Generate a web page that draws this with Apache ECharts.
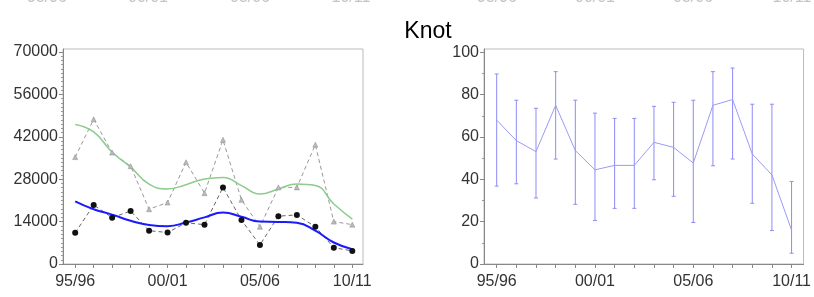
<!DOCTYPE html>
<html>
<head>
<meta charset="utf-8">
<script src="https://cdn.jsdelivr.net/npm/echarts@6/dist/echarts.min.js"></script>
<style>
html, body { margin: 0; padding: 0; background: #fff; }
#chart { width: 814px; height: 297px; }
</style>
</head>
<body>
<div id="chart"></div>
<script>
// seasons 95/96 .. 10/11
const categories = ['95/96', '96/97', '97/98', '98/99', '99/00', '00/01', '01/02', '02/03',
  '03/04', '04/05', '05/06', '06/07', '07/08', '08/09', '09/10', '10/11'];
const labelIdx = [0, 5, 10, 15];

// left panel
const circles = [10300, 19500, 15300, 17500, 11000, 10400, 13600, 13000, 25300, 14500, 6300, 15800, 16200, 12300, 5400, 4300];
const triangles = [35300, 47800, 36800, 32300, 18100, 20300, 33600, 23400, 41000, 21200, 12300, 25300, 25300, 39400, 14000, 13000];
const greenTrend = [46100, 43600, 36900, 32000, 26400, 24800, 26200, 28100, 28600, 25900, 23100, 24800, 26400, 25900, 19800, 14800];
const blueTrend = [20700, 18100, 16300, 14300, 12900, 12500, 13700, 15400, 17000, 15600, 14000, 13900, 13600, 11000, 7100, 4900];
const leftTicks = [0, 14000, 28000, 42000, 56000, 70000];

// right panel
const mean = [68, 58.3, 53.1, 75, 53.6, 44.5, 46.6, 46.6, 57.5, 55.1, 47.7, 75, 77.7, 52, 42.1, 16];
const upper = [89.8, 77.4, 73.6, 90.9, 77.4, 71.3, 68.8, 68.8, 74.5, 76.4, 77.4, 90.9, 92.6, 75.5, 75.5, 39];
const lower = [36.8, 37.9, 31.2, 49.6, 28.2, 20.6, 26.3, 26.3, 39.8, 32, 19.6, 46.4, 49.6, 28.7, 15.8, 5.1];
const rightTicks = [0, 20, 40, 60, 80, 100];

// leftovers of the row above (cut off at the top edge)
const topLabels = ['95/96', '00/01', '05/06', '10/11'];
const topLabelX = [47, 148, 250, 351, 497, 595, 693, 792];

const FONT = 'Liberation Sans';
const idx = categories.map((c, i) => i);
const pairs = arr => arr.map((v, i) => [i, v]);

function minorOf(majors, step) {
  const out = [];
  for (let v = majors[0]; v <= majors[majors.length - 1] + 1e-9; v += step) {
    const r = Math.round(v * 100) / 100;
    if (majors.indexOf(r) < 0) out.push(r);
  }
  return out;
}

function xAxisFor(grid, min, max) {
  return {
    gridIndex: grid, type: 'value', min: min, max: max,
    axisLine: { show: true, onZero: false, lineStyle: { color: '#888' } },
    axisTick: { show: true, customValues: idx, length: 4, lineStyle: { color: '#888' } },
    axisLabel: {
      customValues: labelIdx, margin: 10,
      formatter: v => categories[Math.round(v)],
      fontFamily: FONT, fontSize: 16, color: '#333'
    },
    splitLine: { show: false }
  };
}

function yAxesFor(grid, max, majors, step) {
  return [{
    gridIndex: grid, type: 'value', min: 0, max: max,
    axisLine: { show: true, onZero: false, lineStyle: { color: '#888' } },
    axisTick: { show: true, customValues: majors, length: 4, lineStyle: { color: '#888' } },
    axisLabel: {
      customValues: majors, margin: 5, formatter: v => String(Math.round(v)),
      fontFamily: FONT, fontSize: 16, color: '#333'
    },
    splitLine: { show: false }
  }, {
    // minor ticks only
    gridIndex: grid, type: 'value', min: 0, max: max, position: 'left',
    axisLine: { show: false, onZero: false },
    axisTick: { show: true, customValues: minorOf(majors, step), length: 2, lineStyle: { color: '#999' } },
    axisLabel: { show: false },
    splitLine: { show: false }
  }];
}

const graphics = [{
  type: 'text', x: 428, y: 32,
  style: { text: 'Knot', fill: '#000', font: '23px "Liberation Sans"', textAlign: 'center', textVerticalAlign: 'middle' }
}];
topLabelX.forEach((x, i) => {
  graphics.push({
    type: 'text', x: x, y: 6,
    style: { text: topLabels[i % 4], fill: '#c4c4c4', font: '16px "Liberation Sans"', textAlign: 'center', textVerticalAlign: 'bottom' }
  });
});

const chart = echarts.init(document.getElementById('chart'), null, { renderer: 'canvas' });

chart.setOption({
  animation: false,
  backgroundColor: '#fff',
  graphic: graphics,
  grid: [
    { left: 63, top: 49, width: 300, height: 215, show: true, borderColor: '#bbb', borderWidth: 1 },
    { left: 484, top: 49, width: 320, height: 215, show: true, borderColor: '#bbb', borderWidth: 1 }
  ],
  xAxis: [xAxisFor(0, -0.66, 15.58), xAxisFor(1, -0.645, 15.61)],
  yAxis: yAxesFor(0, 71000, leftTicks, 1400).concat(yAxesFor(1, 101.6, rightTicks, 10)),
  series: [
    {
      type: 'line', xAxisIndex: 0, yAxisIndex: 0, data: pairs(triangles),
      symbol: 'triangle', symbolSize: 5,
      itemStyle: { color: '#bbb', borderColor: '#888', borderWidth: 0.5 },
      lineStyle: { color: '#999', width: 1, type: [4, 3] }
    },
    {
      type: 'line', xAxisIndex: 0, yAxisIndex: 0, data: pairs(greenTrend),
      smooth: 0.5, showSymbol: false,
      lineStyle: { color: '#8ccc8c', width: 1.5 }
    },
    {
      type: 'line', xAxisIndex: 0, yAxisIndex: 0, data: pairs(circles),
      symbol: 'circle', symbolSize: 6,
      itemStyle: { color: '#111' },
      lineStyle: { color: '#666', width: 1, type: [4, 3] }
    },
    {
      type: 'line', xAxisIndex: 0, yAxisIndex: 0, data: pairs(blueTrend),
      smooth: 0.5, showSymbol: false,
      lineStyle: { color: '#1a1aff', width: 2 }
    },
    {
      type: 'custom', xAxisIndex: 1, yAxisIndex: 2,
      data: upper.map((u, i) => [i, u, lower[i]]),
      renderItem: function (params, api) {
        const top = api.coord([api.value(0), api.value(1)]);
        const bot = api.coord([api.value(0), api.value(2)]);
        const st = { stroke: '#8c8cf5', lineWidth: 1 };
        return {
          type: 'group',
          children: [
            { type: 'line', shape: { x1: top[0], y1: top[1], x2: bot[0], y2: bot[1] }, style: st },
            { type: 'line', shape: { x1: top[0] - 2, y1: top[1], x2: top[0] + 2, y2: top[1] }, style: st },
            { type: 'line', shape: { x1: bot[0] - 2, y1: bot[1], x2: bot[0] + 2, y2: bot[1] }, style: st }
          ]
        };
      }
    },
    {
      type: 'line', xAxisIndex: 1, yAxisIndex: 2, data: pairs(mean),
      showSymbol: false,
      lineStyle: { color: '#9b9bf7', width: 1 }
    }
  ]
});
</script>
</body>
</html>
